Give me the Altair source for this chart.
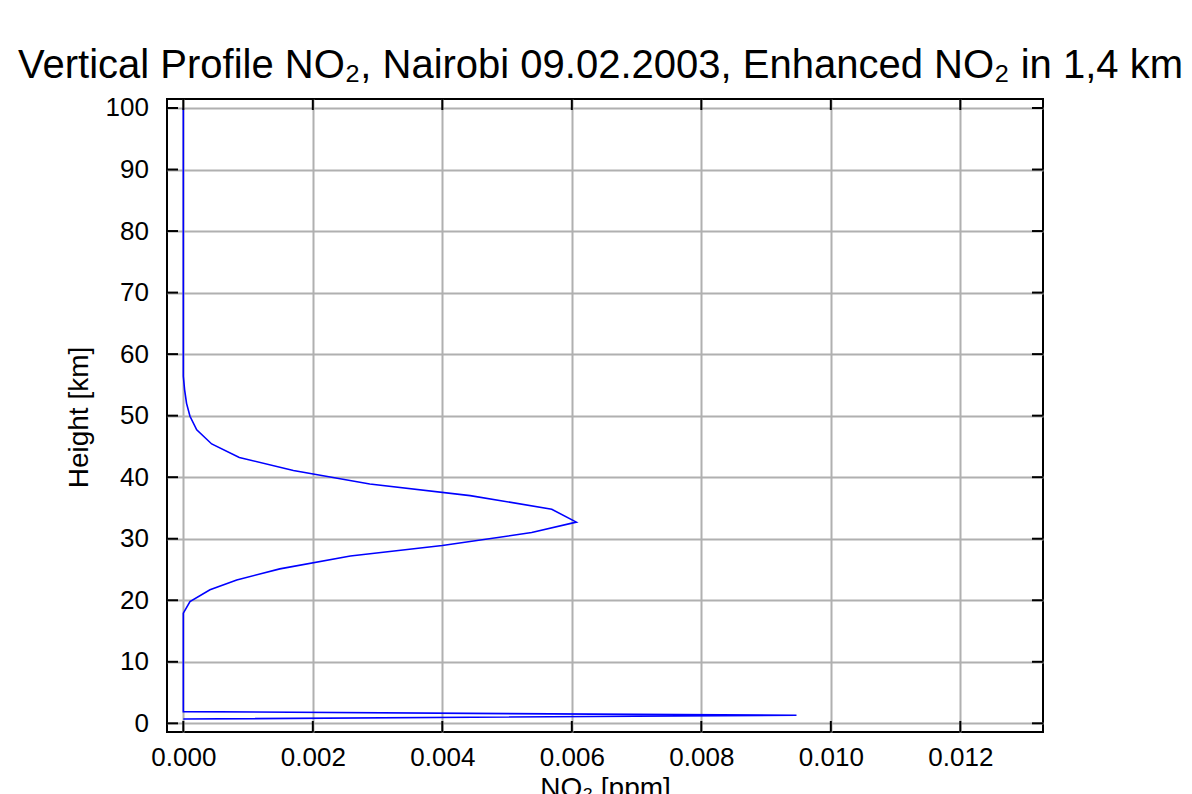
import altair as alt
import pandas as pd

# Profile data
height_km = [0.7, 1.3, 1.9, 17.9, 19.8, 21.7, 23.3, 25.1, 27.2, 28.9, 31.0, 32.7,
             34.8, 37.0, 38.9, 41.1, 43.2, 45.4, 47.7, 49.9, 52.0, 54.2, 56.4, 100.0]
no2_ppm = [0.0, 0.00947, 0.0, 0.0, 0.000103, 0.000412, 0.000825, 0.00149, 0.00258,
           0.0040, 0.00538, 0.00607, 0.00569, 0.00443, 0.00288, 0.0017, 0.000865,
           0.000438, 0.000207, 0.000103, 0.00005, 0.00002, 0.0, 0.0]

x_ticks = [0.0, 0.002, 0.004, 0.006, 0.008, 0.010, 0.012]
y_ticks = [0, 10, 20, 30, 40, 50, 60, 70, 80, 90, 100]

W, H = 876, 633
TICK = 11
FONT = "Liberation Sans"

df = pd.DataFrame({"i": range(len(height_km)), "h": height_km, "v": no2_ppm})
dfx = pd.DataFrame({"v": x_ticks})
dfy = pd.DataFrame({"h": y_ticks})

xscale = alt.Scale(domain=[-0.000252, 0.013277], nice=False, zero=False)
yscale = alt.Scale(domain=[-1.41, 101.46], nice=False, zero=False)

xaxis = alt.Axis(values=x_ticks, format=".3f", title="NO₂ [ppm]", grid=True,
                 gridColor="#b0b0b0", gridWidth=2, ticks=False, domain=False,
                 labelFont=FONT, labelFontSize=26, labelColor="black", labelPadding=12,
                 titleFont=FONT, titleFontSize=28, titleFontWeight="normal",
                 titleColor="black", titleX=W / 2, titleY=42, titleBaseline="top",
                 titleAlign="center")
yaxis = alt.Axis(values=y_ticks, format="d", title="Height [km]", grid=True,
                 gridColor="#b0b0b0", gridWidth=2, ticks=False, domain=False,
                 labelFont=FONT, labelFontSize=26, labelColor="black", labelPadding=18.5,
                 titleFont=FONT, titleFontSize=28, titleFontWeight="normal",
                 titleColor="black", titleX=-80, titleY=318, titleBaseline="alphabetic",
                 titleAlign="center", titleAngle=270)

line = alt.Chart(df).mark_line(color="#0000ff", strokeWidth=1.6).encode(
    x=alt.X("v:Q", scale=xscale, axis=xaxis),
    y=alt.Y("h:Q", scale=yscale, axis=yaxis),
    order="i:Q",
)

tick_style = dict(color="black", strokeWidth=2)
bottom_ticks = alt.Chart(dfx).mark_rule(**tick_style).encode(
    x=alt.X("v:Q", scale=xscale), y=alt.value(H), y2=alt.value(H - TICK))
top_ticks = alt.Chart(dfx).mark_rule(**tick_style).encode(
    x=alt.X("v:Q", scale=xscale), y=alt.value(0), y2=alt.value(TICK))
left_ticks = alt.Chart(dfy).mark_rule(**tick_style).encode(
    y=alt.Y("h:Q", scale=yscale), x=alt.value(0), x2=alt.value(TICK))
right_ticks = alt.Chart(dfy).mark_rule(**tick_style).encode(
    y=alt.Y("h:Q", scale=yscale), x=alt.value(W), x2=alt.value(W - TICK))

chart = alt.layer(line, bottom_ticks, top_ticks, left_ticks, right_ticks).properties(
    width=W, height=H,
    autosize=alt.AutoSizeParams(type="none"),
    padding={"left": 159, "top": 91, "right": 141, "bottom": 62},
    background="white",
    title=alt.TitleParams(
        text="Vertical Profile NO₂, Nairobi 09.02.2003, Enhanced NO₂ in 1,4 km",
        anchor="start", dx=-149, dy=23, offset=0, baseline="alphabetic",
        font=FONT, fontSize=40, fontWeight="normal", color="black", frame="group"),
).configure_view(stroke="black", strokeWidth=2)

chart.save("out.html", embed_options={"renderer": "svg", "actions": False})
